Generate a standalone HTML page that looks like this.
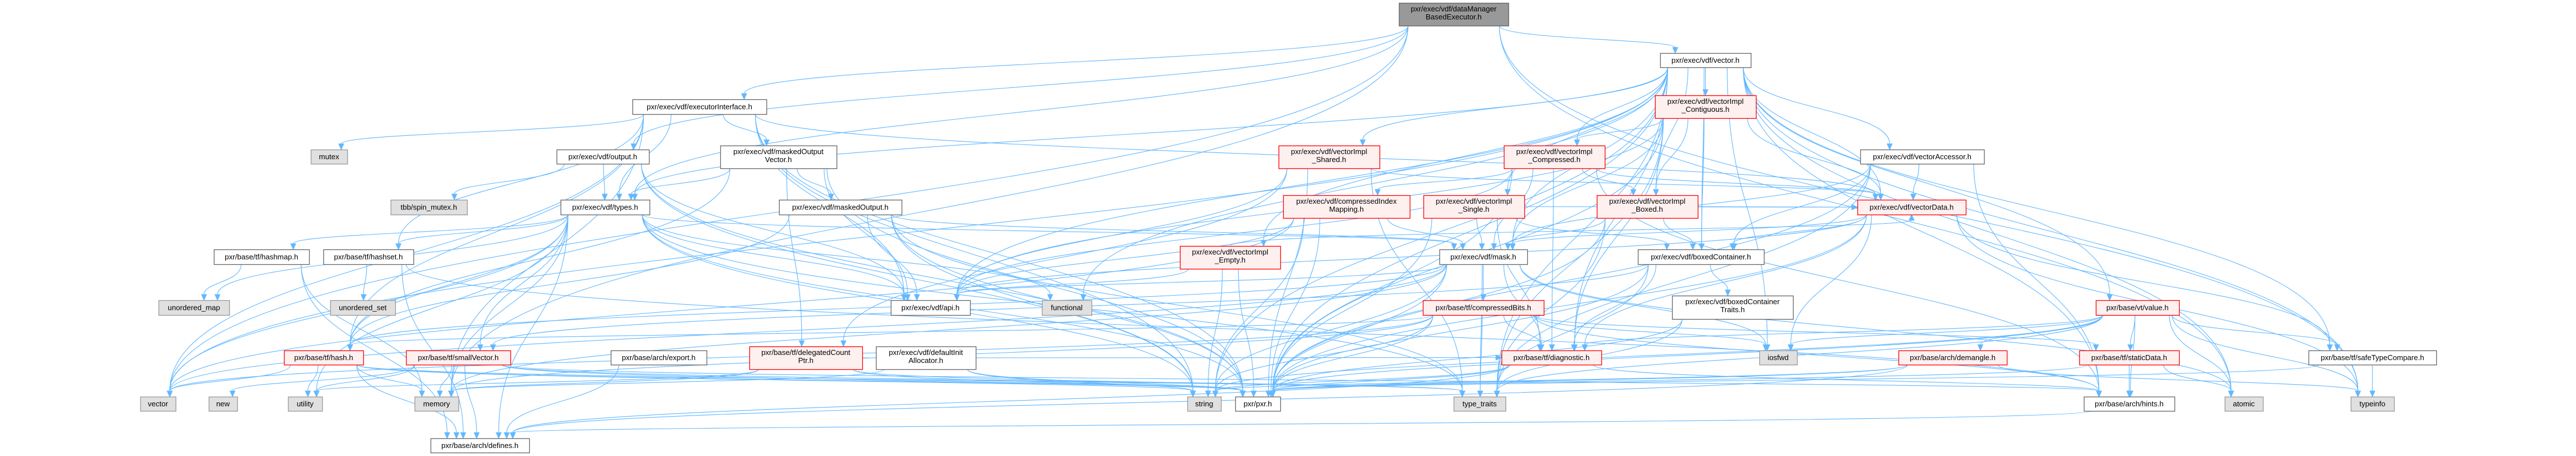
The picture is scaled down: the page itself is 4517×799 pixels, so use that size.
<!DOCTYPE html>
<html><head><meta charset="utf-8">
<style>
html,body{margin:0;padding:0;background:#fff;}
svg{display:block;}
text{font-family:"Liberation Sans",sans-serif;font-size:13px;fill:#000;}
</style></head>
<body>
<svg id="g" width="4517" height="799" viewBox="0 0 4517 799" xmlns="http://www.w3.org/2000/svg">
<g id="edges" fill="none" stroke="#63b8ff" stroke-width="1.1"></g>
<g id="heads" fill="#63b8ff" stroke="#63b8ff"></g>
<g id="nodes"></g>
</svg>
<script>
var N={
root:[2453,5,2645,45,["pxr/exec/vdf/dataManager","BasedExecutor.h"],"root"],
ei:[1109,174,1344,200,["pxr/exec/vdf/executorInterface.h"],"n"],
vec:[2911,93,3070,118,["pxr/exec/vdf/vector.h"],"n"],
mutex:[545,262,609,287,["mutex"],"g"],
out:[976,262,1138,287,["pxr/exec/vdf/output.h"],"n"],
spin:[685,350,819,376,["tbb/spin_mutex.h"],"g"],
types:[983,350,1139,376,["pxr/exec/vdf/types.h"],"n"],
mov:[1263,255,1467,295,["pxr/exec/vdf/maskedOutput","Vector.h"],"n"],
mo:[1366,350,1581,376,["pxr/exec/vdf/maskedOutput.h"],"n"],
shared:[2242,255,2419,295,["pxr/exec/vdf/vectorImpl","_Shared.h"],"r"],
contig:[2902,167,3079,207,["pxr/exec/vdf/vectorImpl","_Contiguous.h"],"r"],
comp:[2637,255,2814,295,["pxr/exec/vdf/vectorImpl","_Compressed.h"],"r"],
acc:[3262,262,3479,287,["pxr/exec/vdf/vectorAccessor.h"],"n"],
cim:[2250,342,2472,382,["pxr/exec/vdf/compressedIndex","Mapping.h"],"r"],
single:[2496,342,2673,382,["pxr/exec/vdf/vectorImpl","_Single.h"],"r"],
boxed:[2800,342,2977,382,["pxr/exec/vdf/vectorImpl","_Boxed.h"],"r"],
vdata:[3257,350,3447,376,["pxr/exec/vdf/vectorData.h"],"r"],
hashmap:[375,437,542,463,["pxr/base/tf/hashmap.h"],"n"],
hashset:[567,437,725,463,["pxr/base/tf/hashset.h"],"n"],
mask:[2524,437,2678,463,["pxr/exec/vdf/mask.h"],"n"],
bc:[2872,437,3093,463,["pxr/exec/vdf/boxedContainer.h"],"n"],
empty:[2069,431,2245,471,["pxr/exec/vdf/vectorImpl","_Empty.h"],"r"],
umap:[278,526,402,552,["unordered_map"],"g"],
uset:[579,526,693,552,["unordered_set"],"g"],
api:[1562,526,1701,552,["pxr/exec/vdf/api.h"],"n"],
func:[1827,526,1914,552,["functional"],"g"],
cbits:[2495,526,2707,552,["pxr/base/tf/compressedBits.h"],"r"],
bct:[2932,518,3144,559,["pxr/exec/vdf/boxedContainer","Traits.h"],"n"],
value:[3675,526,3821,552,["pxr/base/vt/value.h"],"r"],
hash:[498,614,637,639,["pxr/base/tf/hash.h"],"r"],
sv:[712,614,895,639,["pxr/base/tf/smallVector.h"],"r"],
exp:[1071,614,1239,639,["pxr/base/arch/export.h"],"n"],
dcp:[1314,607,1512,647,["pxr/base/tf/delegatedCount","Ptr.h"],"r"],
dia:[1536,607,1711,647,["pxr/exec/vdf/defaultInit","Allocator.h"],"n"],
diag:[2633,614,2808,639,["pxr/base/tf/diagnostic.h"],"r"],
iosfwd:[3085,614,3151,639,["iosfwd"],"g"],
demangle:[3329,614,3519,639,["pxr/base/arch/demangle.h"],"r"],
sdata:[3646,614,3821,639,["pxr/base/tf/staticData.h"],"r"],
stc:[4048,614,4272,639,["pxr/base/tf/safeTypeCompare.h"],"n"],
vector:[246,695,308,720,["vector"],"g"],
"new":[366,695,416,720,["new"],"g"],
utility:[505,695,565,720,["utility"],"g"],
memory:[727,695,804,720,["memory"],"g"],
string:[2082,695,2141,720,["string"],"g"],
pxr:[2166,695,2245,720,["pxr/pxr.h"],"n"],
tt:[2549,695,2640,720,["type_traits"],"g"],
hints:[3654,695,3813,720,["pxr/base/arch/hints.h"],"n"],
atomic:[3901,695,3968,720,["atomic"],"g"],
typeinfo:[4122,695,4198,720,["typeinfo"],"g"],
defines:[755,768,928,793,["pxr/base/arch/defines.h"],"n"]
};
var E={
root:["ei","vec","out","vector","memory","typeinfo","atomic","types"],
ei:["mutex","types","mov","api","hashset","hash","string","pxr","vdata","memory","vector"],
out:["spin","types","api","pxr","string"],
types:["hashmap","hashset","umap","hash","sv","vector","utility","memory","api","mask","pxr","string","defines","tt","func"],
hashmap:["umap","defines","memory"],
hashset:["uset","defines","hints"],
hash:["vector","utility","memory","pxr","tt","string","defines"],
sv:["new","memory","defines","hints","tt","pxr","utility"],
exp:["defines"],
mov:["mo","api","types","hash","pxr","dcp"],
mo:["api","mask","hash","pxr","string","tt"],
dcp:["tt","memory","utility","pxr","diag"],
dia:["pxr","memory","string"],
vec:["contig","comp","shared","single","boxed","empty","acc","vdata","mask","bc","api","value","stc","typeinfo","atomic","pxr","iosfwd","func","types","diag","hints","tt","vector","string"],
contig:["comp","boxed","bc","mask","api","vdata","diag","pxr","tt"],
comp:["cim","boxed","vdata","mask","api","diag","pxr","hints"],
shared:["vdata","dcp","api","pxr","tt"],
acc:["vdata","bc","mask","pxr","hints","tt"],
vdata:["bc","mask","api","stc","typeinfo","pxr","iosfwd","diag"],
cim:["api","vector","pxr","mask","string"],
single:["mask","bc","vdata","pxr","diag"],
boxed:["bc","vdata","mask","pxr","tt"],
empty:["vdata","api","pxr","string"],
mask:["cbits","diag","hash","api","tt","iosfwd","string","vector","pxr","atomic","memory"],
bc:["bct","sv","diag","pxr","tt"],
bct:["tt","pxr"],
cbits:["diag","tt","iosfwd","hash","vector","pxr","hints","string","sdata","memory"],
diag:["pxr","string","defines","hints"],
value:["demangle","sdata","hints","stc","typeinfo","tt","pxr","diag","string","atomic","iosfwd"],
sdata:["hints","atomic","pxr"],
stc:["typeinfo","pxr"],
demangle:["typeinfo","string","pxr","defines"],
hints:["defines"]
};
var NS="http://www.w3.org/2000/svg";
function el(t,a,p){var e=document.createElementNS(NS,t);for(var k in a)e.setAttribute(k,a[k]);if(p)p.appendChild(e);return e;}
var eg=document.getElementById("edges"),hg=document.getElementById("heads");
function clamp(v,a){return Math.max(-a,Math.min(a,v));}
for(var s in E){var S=N[s];E[s].forEach(function(t){var T=N[t];if(!T)return;
 var scx=(S[0]+S[2])/2,tcx=(T[0]+T[2])/2,sw=S[2]-S[0],tw=T[2]-T[0];
 var x1,y1,x2,y2,c1x,c1y,c2x,c2y;
 if(T[1]>S[3]+5){x1=scx+clamp((tcx-scx)*0.3,sw/2.4);y1=S[3];x2=tcx+clamp((scx-tcx)*0.15,tw/3);y2=T[1];
  var d=y2-y1;c1x=x1;c1y=y1+d*0.5;c2x=x2;c2y=y2-d*0.5;}
 else if(S[1]>T[3]+5){x1=scx;y1=S[1];x2=tcx;y2=T[3];var d2=y1-y2;c1x=x1;c1y=y1-d2*0.5;c2x=x2;c2y=y2+d2*0.5;}
 else{ if(tcx>scx){x1=S[2];x2=T[0];}else{x1=S[0];x2=T[2];} y1=(S[1]+S[3])/2;y2=(T[1]+T[3])/2;c1x=(x1+x2)/2;c1y=y1;c2x=(x1+x2)/2;c2y=y2;}
 var dx=x2-c2x,dy=y2-c2y,L=Math.sqrt(dx*dx+dy*dy)||1;dx/=L;dy/=L;
 var bx=x2-dx*10,by=y2-dy*10;
 el("path",{d:"M"+x1+","+y1+" C"+c1x+","+c1y+" "+c2x+","+c2y+" "+bx+","+by},eg);
 el("polygon",{points:x2+","+y2+" "+(bx-dy*4.5)+","+(by+dx*4.5)+" "+(bx+dy*4.5)+","+(by-dx*4.5)},hg);
});}
</script>
<script>
(function(){var ng=document.getElementById("nodes");
var st={n:["#ffffff","#666666"],r:["#fff0f0","#ff0000"],g:["#e0e0e0","#999999"],root:["#999999","#666666"]};
for(var k in N){var a=N[k],w=a[2]-a[0],h=a[3]-a[1],c=st[a[5]];
 el("rect",{x:a[0]+0.5,y:a[1]+0.5,width:w,height:h,fill:c[0],stroke:c[1],"stroke-width":1.3},ng);
 var lines=a[4];
 lines.forEach(function(l,i){var ty=lines.length==1?a[1]+h/2+4.5:a[1]+15+i*14;
  var t=el("text",{x:a[0]+w/2,y:ty,"text-anchor":"middle"},ng);t.textContent=l;
  var tl=t.getComputedTextLength();if(tl>w-12){t.setAttribute("textLength",w-12);t.setAttribute("lengthAdjust","spacingAndGlyphs");}
 });}
})();
</script>
</body></html>
